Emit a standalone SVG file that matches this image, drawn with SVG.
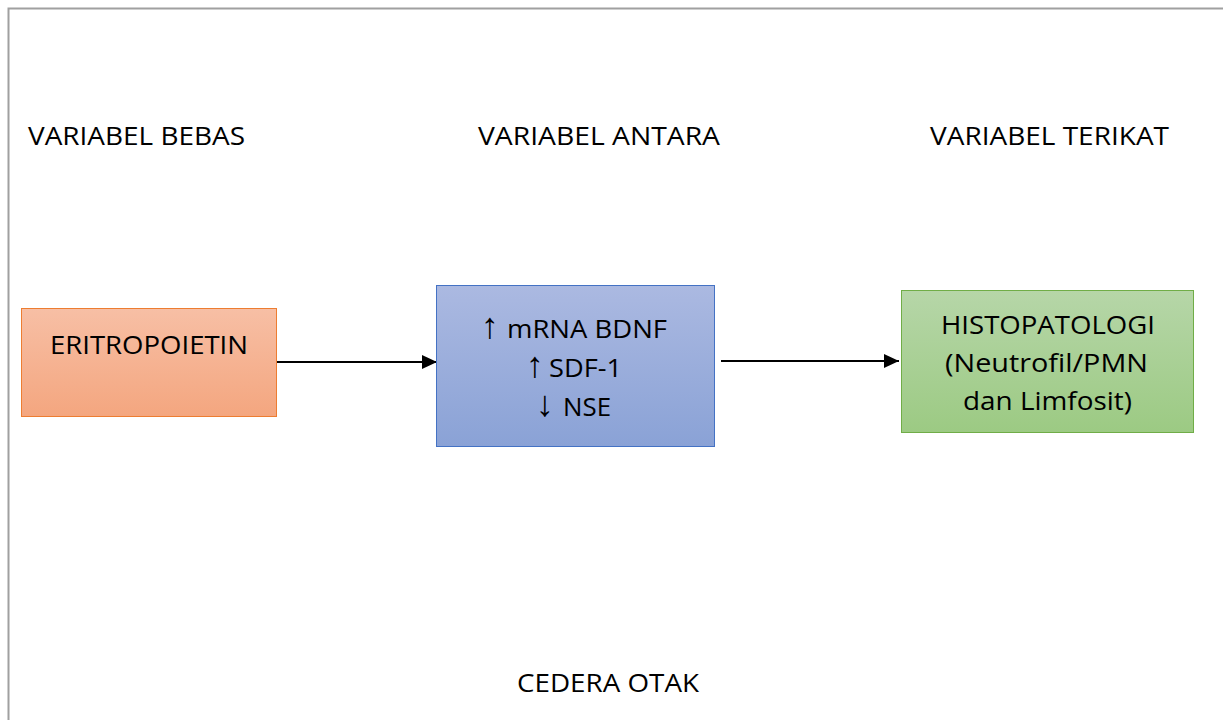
<svg xmlns="http://www.w3.org/2000/svg" width="1223" height="720" viewBox="0 0 1223 720">
<style>
.t{font-family:"Open Sans","Liberation Sans",sans-serif;font-size:25px;fill:#000}
.ar{font-family:"Liberation Sans",sans-serif;font-size:36px}
.conn{stroke:#000;stroke-width:2;fill:none;marker-end:url(#ah)}
</style>
<defs>
<marker id="ah" viewBox="0 0 10 10" refX="10" refY="5" markerWidth="15" markerHeight="14" markerUnits="userSpaceOnUse" orient="auto" preserveAspectRatio="none"><path d="M0,0L10,5L0,10z" fill="#000"/></marker>
<linearGradient id="gO" x1="0" y1="0" x2="0" y2="1"><stop offset="0" stop-color="#f7bfa5"/><stop offset="1" stop-color="#f4a67f"/></linearGradient>
<linearGradient id="gB" x1="0" y1="0" x2="0" y2="1"><stop offset="0" stop-color="#abb9e1"/><stop offset="1" stop-color="#8aa2d6"/></linearGradient>
<linearGradient id="gG" x1="0" y1="0" x2="0" y2="1"><stop offset="0" stop-color="#b6d6a8"/><stop offset="1" stop-color="#9cca83"/></linearGradient>
</defs>
<rect width="1223" height="720" fill="#fff"/>
<path d="M8.5,720V8.5H1223" fill="none" stroke="#a0a0a0" stroke-width="2"/>
<g id="labels">
<text class="t" x="28" y="145" textLength="217" lengthAdjust="spacingAndGlyphs">VARIABEL BEBAS</text>
<text class="t" x="478" y="145" textLength="242" lengthAdjust="spacingAndGlyphs">VARIABEL ANTARA</text>
<text class="t" x="930" y="145" textLength="239" lengthAdjust="spacingAndGlyphs">VARIABEL TERIKAT</text>
<text class="t" x="517" y="692" textLength="182" lengthAdjust="spacingAndGlyphs">CEDERA OTAK</text>
</g>
<g id="connectors">
<line class="conn" x1="277" y1="362" x2="437" y2="362"/>
<line class="conn" x1="721" y1="361" x2="899" y2="361"/>
</g>
<g id="eritropoietin">
<rect x="21.5" y="308.5" width="255" height="108" fill="url(#gO)" stroke="#ed7d31" stroke-width="1"/>
<text class="t" x="50" y="354" textLength="198" lengthAdjust="spacingAndGlyphs">ERITROPOIETIN</text>
</g>
<g id="antara">
<rect x="436.5" y="285.5" width="278" height="161" fill="url(#gB)" stroke="#4472c4" stroke-width="1"/>
<text class="t" y="338"><tspan class="ar" x="481">↑</tspan><tspan x="507" textLength="160" lengthAdjust="spacingAndGlyphs">mRNA BDNF</tspan></text>
<text class="t" y="377"><tspan class="ar" x="526">↑</tspan><tspan x="549" textLength="73" lengthAdjust="spacingAndGlyphs">SDF-1</tspan></text>
<text class="t" y="416"><tspan class="ar" x="536">↓</tspan><tspan x="563" textLength="48" lengthAdjust="spacingAndGlyphs">NSE</tspan></text>
</g>
<g id="histopatologi">
<rect x="901.5" y="290.5" width="292" height="142" fill="url(#gG)" stroke="#70ad47" stroke-width="1"/>
<text class="t" x="941" y="334" textLength="214" lengthAdjust="spacingAndGlyphs">HISTOPATOLOGI</text>
<text class="t" x="945" y="372" textLength="203" lengthAdjust="spacingAndGlyphs">(Neutrofil/PMN</text>
<text class="t" x="963" y="410" textLength="169" lengthAdjust="spacingAndGlyphs">dan Limfosit)</text>
</g>
</svg>
